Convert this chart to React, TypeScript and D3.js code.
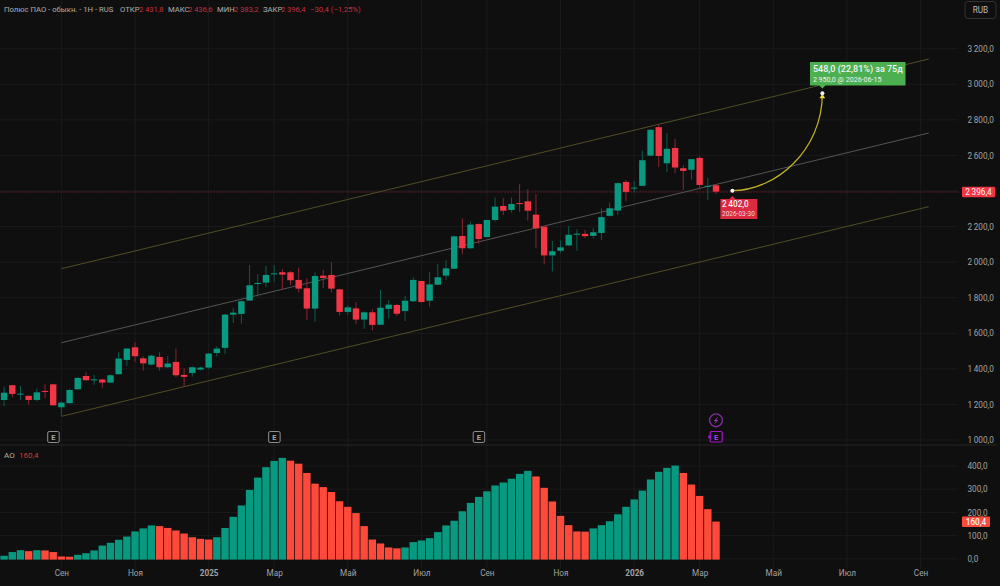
import { useEffect, useRef } from "react";
import * as d3 from "d3";

const width = 1000;
const height = 586;

const lastBarDate = Date.UTC(2026, 2, 16);
const weekMs = 7 * 24 * 3600 * 1000;

// недельные свечи
const opens = [1225,1308,1257,1248,1225,1276,1313,1184,1207,1285,1360,1338,1340,1323,1370,1450,1521,1459,1424,1467,1409,1439,1366,1377,1396,1407,1489,1518,1705,1709,1784,1877,1885,1932,1943,1943,1900,1853,1739,1924,1928,1847,1720,1740,1677,1718,1648,1737,1759,1725,1780,1894,1783,1873,1924,1963,2147,2078,2214,2141,2237,2316,2293,2332,2342,2267,2199,2038,2064,2094,2156,2159,2148,2164,2260,2290,2451,2416,2429,2599,2759,2556,2642,2528,2519,2586,2425,2431.8];
const highs = [1300,1310,1304,1251,1289,1313,1317,1218,1287,1353,1381,1366,1345,1368,1495,1518,1549,1471,1480,1493,1473,1514,1403,1413,1411,1490,1527,1709,1741,1786,1984,1932,1979,1984,1960,1949,1969,1909,1941,1956,1999,1849,1757,1776,1723,1735,1843,1787,1765,1811,1915,1896,1945,1990,2012,2149,2246,2228,2218,2239,2364,2359,2364,2439,2411,2383,2203,2119,2121,2203,2184,2181,2191,2303,2335,2447,2462,2457,2627,2747,2775,2725,2693,2545,2579,2597,2474,2436.6];
const lows = [1191,1240,1225,1199,1216,1235,1193,1135,1205,1283,1332,1310,1293,1321,1368,1416,1439,1390,1420,1390,1405,1353,1300,1356,1392,1398,1469,1484,1658,1654,1782,1806,1859,1887,1844,1870,1829,1675,1664,1853,1829,1701,1703,1652,1626,1615,1647,1682,1697,1669,1776,1772,1750,1871,1900,1960,2044,2076,2102,2139,2228,2265,2278,2284,2233,2079,1988,1948,2053,2091,2064,2134,2134,2125,2256,2266,2344,2391,2427,2596,2534,2507,2500,2406,2464,2414,2350,2383.2];
const closes = [1266,1259,1261,1225,1268,1272,1195,1210,1281,1349,1336,1341,1323,1364,1458,1514,1471,1431,1474,1409,1430,1364,1355,1409,1407,1486,1514,1705,1716,1780,1870,1883,1928,1937,1930,1898,1851,1739,1922,1911,1851,1720,1746,1677,1718,1647,1744,1761,1710,1783,1900,1776,1875,1915,1965,2145,2078,2211,2130,2237,2312,2289,2327,2329,2289,2190,2038,2061,2083,2154,2160,2146,2168,2253,2303,2444,2395,2419,2573,2744,2597,2637,2532,2513,2579,2434,2429,2396.4];

// Awesome Oscillator
const aoValues = [13,29,37,33,37,36,29,10,9,17,24,36,57,69,82,96,118,131,144,141,133,122,109,93,86,83,93,133,181,230,297,350,395,422,435,423,410,370,324,309,288,248,224,197,141,83,66,49,45,49,72,79,89,115,144,164,205,241,267,291,316,329,345,366,379,355,306,247,185,145,118,117,131,145,162,192,224,256,294,342,375,392,402,370,320,271,214,160.4];

const priceTicks = [1000,1200,1400,1600,1800,2000,2200,2400,2600,2800,3000,3200];
const aoTicks = [0,100,200,300,400];
const monthTicks = ["2024-09-02","2024-11-04","2025-01-06","2025-03-03","2025-05-05","2025-07-07","2025-09-01","2025-11-03","2026-01-05","2026-03-02","2026-05-04","2026-07-06","2026-09-07"];
const monthLabels = ["Сен","Ноя","2025","Мар","Май","Июл","Сен","Ноя","2026","Мар","Май","Июл","Сен"];

const channelDates = ["2024-09-02","2026-09-14"];
const channelUpper = [1963,3142];
const channelMiddle = [1547,2726];
const channelLower = [1133,2312];

const forecastDates = ["2026-03-30","2026-06-15"];
const forecastPrices = [2402,2950];
const earningsDates = ["2024-08-26","2025-03-03","2025-08-25"];

const headerParts = [
  { x: 4, text: "Полюс ПАО - обыкн. - 1Н - RUS", red: false },
  { x: 120, text: "ОТКР", red: false },
  { x: 139, text: "2 431,8", red: true },
  { x: 168, text: "МАКС", red: false },
  { x: 188, text: "2 436,6", red: true },
  { x: 217, text: "МИН", red: false },
  { x: 234, text: "2 383,2", red: true },
  { x: 263, text: "ЗАКР", red: false },
  { x: 281, text: "2 396,4", red: true },
  { x: 310, text: "−30,4 (−1,25%)", red: true },
];

const font = "Roboto, sans-serif";
const up = "#089981";
const down = "#f23645";
const upWick = "#0a5c50";
const downWick = "#8c2531";
const aoDown = "#ff4a3b";
const gridColor = "#1b1b1b";
const textColor = "#a3a3a3";

export default function App() {
  const svgRef = useRef<SVGSVGElement | null>(null);

  useEffect(() => {
    if (!svgRef.current) return;
    const svg = d3.select(svgRef.current);
    svg.selectAll("*").remove();

    const barDate = (i: number) => new Date(lastBarDate - (opens.length - 1 - i) * weekMs);
    const day = (s: string) => new Date(s + "T00:00:00Z");

    const x = d3.scaleUtc().domain([barDate(0), barDate(opens.length - 1)]).range([4.1, 716]);
    const y = d3.scaleLinear().domain([1000, 3200]).range([440, 48.7]);
    const yAo = d3.scaleLinear().domain([0, 400]).range([558.8, 466]);

    const ru = d3.formatLocale({ decimal: ",", thousands: "\u2009", grouping: [3], currency: ["", ""] });
    const fmt = ru.format(",.1f");

    svg.append("rect").attr("width", width).attr("height", height).attr("fill", "#0f0f0f");

    // сетка
    const grid = svg.append("g").attr("stroke", gridColor).attr("stroke-width", 1);
    monthTicks.forEach((d) => {
      grid.append("line").attr("x1", x(day(d))).attr("x2", x(day(d))).attr("y1", 0).attr("y2", 569);
    });
    priceTicks.forEach((p) => {
      grid.append("line").attr("x1", 0).attr("x2", 958).attr("y1", y(p)).attr("y2", y(p));
    });
    aoTicks.forEach((p) => {
      grid.append("line").attr("x1", 0).attr("x2", 958).attr("y1", yAo(p)).attr("y2", yAo(p));
    });

    // разделитель панелей
    svg.append("line").attr("x1", 0).attr("x2", 997).attr("y1", 445).attr("y2", 445).attr("stroke", "#262626");

    // линия текущей цены
    svg.append("line")
      .attr("x1", 0).attr("x2", 960)
      .attr("y1", y(closes[closes.length - 1]) + 0.4).attr("y2", y(closes[closes.length - 1]) + 0.4)
      .attr("stroke", "#5c1c25").attr("stroke-width", 1).attr("stroke-dasharray", "2 1");

    // канал
    const channelLine = d3.line<number>()
      .x((_, i) => x(day(channelDates[i])))
      .y((d) => y(d));
    svg.append("path").attr("d", channelLine(channelUpper)).attr("fill", "none").attr("stroke", "#524e24");
    svg.append("path").attr("d", channelLine(channelMiddle)).attr("fill", "none").attr("stroke", "#555555");
    svg.append("path").attr("d", channelLine(channelLower)).attr("fill", "none").attr("stroke", "#524e24");

    // свечи
    const bw = 6.4;
    const candles = svg.append("g");
    opens.forEach((o, i) => {
      const c = closes[i];
      const rising = c >= o;
      const cx = x(barDate(i));
      candles.append("line")
        .attr("x1", cx).attr("x2", cx)
        .attr("y1", y(highs[i])).attr("y2", y(lows[i]))
        .attr("stroke", rising ? upWick : downWick).attr("stroke-width", 1);
      const top = y(Math.max(o, c));
      const h = Math.max(1, Math.abs(y(o) - y(c)));
      candles.append("rect")
        .attr("x", cx - bw / 2).attr("width", bw)
        .attr("y", top).attr("height", h)
        .attr("fill", rising ? up : down);
    });

    // прогноз
    const x0 = x(day(forecastDates[0]));
    const x1 = x(day(forecastDates[1]));
    const y0 = y(forecastPrices[0]);
    const y1 = y(forecastPrices[1]);
    const curve = d3.path();
    curve.moveTo(x0, y0);
    curve.bezierCurveTo(x0 + 43, y0, x1, y0 - 40, x1, y1);
    svg.append("path").attr("d", curve.toString()).attr("fill", "none").attr("stroke", "#c4b42a").attr("stroke-width", 1.2);
    svg.append("path")
      .attr("d", `M${x1 - 2.8},${y1 + 5} L${x1},${y1 + 0.5} L${x1 + 2.8},${y1 + 5} Z`)
      .attr("fill", "#f5df2e");
    [[x0, y0], [x1, y1]].forEach(([a, b]) => {
      svg.append("circle").attr("cx", a).attr("cy", b).attr("r", 2).attr("fill", "#f4f4f4");
    });

    // подписи прогноза
    svg.append("path")
      .attr("d", `M${x0 - 12},199 H${x0 - 3} L${x0},196 L${x0 + 3},199 H${x0 + 25} V219 H${x0 - 12} Z`)
      .attr("fill", "#dc2a40");
    svg.append("text").attr("x", 722).attr("y", 206.7).attr("font-size", 8.2).attr("font-weight", 500).attr("fill", "#f4f4f4").attr("font-family", font).text("2\u2009402,0");
    svg.append("text").attr("x", 722).attr("y", 215.7).attr("font-size", 6.5).attr("fill", "#f0d5d8").attr("font-family", font).text("2026-03-30");

    svg.append("path")
      .attr("d", `M810,62 H905.5 V85.5 H${x1 + 3} L${x1},88.5 L${x1 - 3},85.5 H810 Z`)
      .attr("fill", "#4caf50");
    svg.append("text").attr("x", 813).attr("y", 71.7).attr("font-size", 9).attr("font-weight", 500).attr("fill", "#f4f4f4").attr("font-family", font).text("548,0 (22,81%) за 75д");
    svg.append("text").attr("x", 813).attr("y", 81.7).attr("font-size", 7.1).attr("fill", "#f0f0f0").attr("font-family", font).text("2\u2009950,0 @ 2026-06-15");

    // маркеры отчётности
    earningsDates.forEach((d) => {
      const cx = x(day(d));
      svg.append("rect").attr("x", cx - 5.5).attr("y", 431.5).attr("width", 11.5).attr("height", 11).attr("rx", 1.5)
        .attr("fill", "#0f0f0f").attr("stroke", "#8f8f8f").attr("stroke-width", 1);
      svg.append("text").attr("x", cx + 0.2).attr("y", 440).attr("text-anchor", "middle").attr("font-size", 7.5).attr("font-weight", 700)
        .attr("fill", "#a8a8a8").attr("font-family", font).text("E");
    });

    // будущие события
    const purple = "#a314c9";
    const ex = x(barDate(opens.length - 1));
    svg.append("circle").attr("cx", ex).attr("cy", 420.3).attr("r", 6.4).attr("fill", "none").attr("stroke", "#7f2c9c").attr("stroke-width", 1.4);
    svg.append("path").attr("d", `M${ex + 2},416.5 L${ex - 2.2},421 H${ex} L${ex - 2},424.5 L${ex + 2.4},420 H${ex + 0.3} Z`).attr("fill", "#8d3aa8");
    svg.append("rect").attr("x", ex - 5.8).attr("y", 431.5).attr("width", 12).attr("height", 10.5).attr("rx", 1).attr("fill", "#0f0f0f").attr("stroke", purple).attr("stroke-width", 1.2);
    svg.append("circle").attr("cx", ex - 6.5).attr("cy", 436.8).attr("r", 1.6).attr("fill", purple);
    svg.append("text").attr("x", ex + 0.2).attr("y", 439.8).attr("text-anchor", "middle").attr("font-size", 7.5).attr("font-weight", 700).attr("fill", "#c23be0").attr("font-family", font).text("E");

    // АО
    const aoW = 7.4;
    const ao = svg.append("g");
    aoValues.forEach((v, i) => {
      const rising = i === 0 || v >= aoValues[i - 1];
      ao.append("rect")
        .attr("x", x(barDate(i)) - aoW / 2).attr("width", aoW)
        .attr("y", yAo(v)).attr("height", yAo(0) - yAo(v) + 0.8)
        .attr("fill", rising ? up : aoDown);
    });

    // шкалы
    const styleAxis = (g: d3.Selection<SVGGElement, unknown, null, undefined>) => {
      g.select(".domain").remove();
      g.selectAll("text").attr("fill", textColor).attr("font-family", font).attr("font-size", 8.2);
    };
    svg.append("g").attr("transform", "translate(967.5,0)")
      .call(d3.axisRight(y).tickValues(priceTicks.filter((p) => p !== 2400)).tickSize(0).tickPadding(0).tickFormat((d) => fmt(+d)))
      .call(styleAxis);
    svg.append("g").attr("transform", "translate(967.5,0)")
      .call(d3.axisRight(yAo).tickValues(aoTicks).tickSize(0).tickPadding(0).tickFormat((d) => fmt(+d)))
      .call(styleAxis);
    svg.append("g").attr("transform", "translate(0,567)")
      .call(
        d3.axisBottom(x)
          .tickValues(monthTicks.map(day))
          .tickSize(0)
          .tickPadding(3)
          .tickFormat((_, i) => monthLabels[i]),
      )
      .call(styleAxis)
      .selectAll("text")
      .attr("font-weight", (_, i) => (monthLabels[i].length === 4 ? 700 : 400));

    // метки значений
    const lastClose = closes[closes.length - 1];
    svg.append("rect").attr("x", 962).attr("y", y(lastClose) - 5).attr("width", 33).attr("height", 10.5).attr("rx", 1).attr("fill", down);
    svg.append("text").attr("x", 978.5).attr("y", y(lastClose) + 3).attr("text-anchor", "middle").attr("font-size", 8.2).attr("fill", "#f4f4f4").attr("font-family", font).text(fmt(lastClose));
    const lastAo = aoValues[aoValues.length - 1];
    svg.append("rect").attr("x", 962).attr("y", yAo(lastAo) - 5).attr("width", 28).attr("height", 10.5).attr("rx", 1).attr("fill", aoDown);
    svg.append("text").attr("x", 976).attr("y", yAo(lastAo) + 3).attr("text-anchor", "middle").attr("font-size", 8.2).attr("font-weight", 500).attr("fill", "#f4f4f4").attr("font-family", font).text(fmt(lastAo));

    // кнопка валюты
    svg.append("rect").attr("x", 965).attr("y", 1.5).attr("width", 31).attr("height", 17).attr("rx", 3).attr("fill", "#0f0f0f").attr("stroke", "#333");
    svg.append("text").attr("x", 980.5).attr("y", 13).attr("text-anchor", "middle").attr("font-size", 8.2).attr("fill", "#bdbdbd").attr("font-family", font).text("RUB");

    // заголовок
    headerParts.forEach((p) => {
      svg.append("text").attr("x", p.x).attr("y", 12).attr("font-size", 7.7)
        .attr("fill", p.red ? "#c2303f" : "#b0b0b0").attr("font-family", font)
        .text(p.text.replace(/(\d) (\d)/, "$1\u2009$2"));
    });
    svg.append("text").attr("x", 4).attr("y", 458).attr("font-size", 8).attr("fill", "#b0b0b0").attr("font-family", font).text("АО");
    svg.append("text").attr("x", 19).attr("y", 458).attr("font-size", 8).attr("fill", "#d03c32").attr("font-family", font).text("160,4");
  }, []);

  return (
    <svg
      ref={svgRef}
      width={width}
      height={height}
      style={{ position: "absolute", left: 0, top: 0, display: "block" }}
    ></svg>
  );
}
